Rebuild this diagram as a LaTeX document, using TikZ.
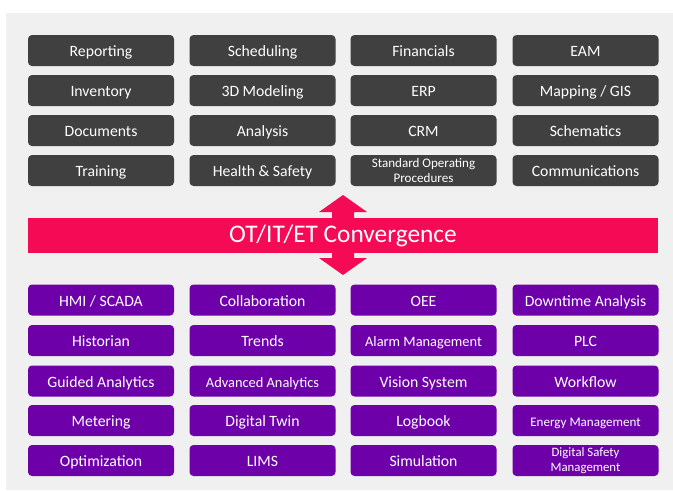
\documentclass[tikz,border=0pt]{standalone}
\usepackage{fontspec}
\setmainfont{Carlito}
\definecolor{fond}{RGB}{240,240,240}
\definecolor{gris}{RGB}{64,64,64}
\definecolor{violet}{RGB}{110,0,170}
\definecolor{rose}{RGB}{245,10,85}
\tikzset{
    tuile/.style={rounded corners=3pt, minimum width=109.5pt, minimum height=23.25pt,
        inner sep=1pt, align=center, text=white, text height=9.6pt, text depth=0pt,
        font=\fontsize{11.8}{12.5}\selectfont},
    tuileIT/.style={tuile, fill=gris},
    tuileOT/.style={tuile, fill=violet},
    petit/.style={font=\fontsize{10.8}{12}\selectfont},
    deuxlignes/.style={text height=, text depth=, font=\fontsize{#1}{11.6}\selectfont}
}

\begin{document}
\begin{tikzpicture}[x=0.75pt, y=-0.75pt]
    \useasboundingbox (0,0) rectangle (673,490);
    % Fond gris
    \fill[fond] (6,13) rectangle (673,490);

    % Applications IT (gris)
    \node[tuileIT] (report) at (101,50.5) {Reporting};
    \node[tuileIT] (sched) at (262.5,50.5) {Scheduling};
    \node[tuileIT] (fin) at (423.5,50.5) {Financials};
    \node[tuileIT] (eam) at (585.5,50.5) {EAM};
    \node[tuileIT] (invent) at (101,90.5) {Inventory};
    \node[tuileIT] (modele) at (262.5,90.5) {3D Modeling};
    \node[tuileIT] (erp) at (423.5,90.5) {ERP};
    \node[tuileIT] (gis) at (585.5,90.5) {Mapping / GIS};
    \node[tuileIT] (docs) at (101,130.5) {Documents};
    \node[tuileIT] (analyse) at (262.5,130.5) {Analysis};
    \node[tuileIT] (crm) at (423.5,130.5) {CRM};
    \node[tuileIT] (schema) at (585.5,130.5) {Schematics};
    \node[tuileIT] (form) at (101,170.5) {Training};
    \node[tuileIT] (secu) at (262.5,170.5) {Health \& Safety};
    \node[tuileIT,deuxlignes=9.8] (sop) at (423.5,170.5) {Standard Operating\\Procedures};
    \node[tuileIT] (comm) at (585.5,170.5) {Communications};

    % Double flèche et bandeau de convergence
    \fill[rose] (343,195) -- (367,212) -- (354,212) -- (354,218) -- (332,218) -- (332,212) -- (319,212) -- cycle;
    \fill[rose] (343,275) -- (367,258) -- (354,258) -- (354,253) -- (332,253) -- (332,258) -- (319,258) -- cycle;
    \node[fill=rose, minimum width=472.5pt, minimum height=26.25pt, inner sep=0pt, text=white,
        font=\fontsize{19}{20}\selectfont] (conv) at (343,235.5) {OT/IT/ET Convergence};

    % Applications OT (violet)
    \node[tuileOT] (hmi) at (101,300) {HMI / SCADA};
    \node[tuileOT] (collab) at (262.5,300) {Collaboration};
    \node[tuileOT] (oee) at (423.5,300) {OEE};
    \node[tuileOT] (arret) at (585.5,300) {Downtime Analysis};
    \node[tuileOT] (histo) at (101,340.5) {Historian};
    \node[tuileOT] (tend) at (262.5,340.5) {Trends};
    \node[tuileOT,petit] (alarme) at (423.5,340.5) {Alarm Management};
    \node[tuileOT] (plc) at (585.5,340.5) {PLC};
    \node[tuileOT] (guide) at (101,381) {Guided Analytics};
    \node[tuileOT,petit] (avance) at (262.5,381) {Advanced Analytics};
    \node[tuileOT] (vision) at (423.5,381) {Vision System};
    \node[tuileOT] (flux) at (585.5,381) {Workflow};
    \node[tuileOT] (compt) at (101,420.5) {Metering};
    \node[tuileOT] (jumeau) at (262.5,420.5) {Digital Twin};
    \node[tuileOT] (journal) at (423.5,420.5) {Logbook};
    \node[tuileOT,font=\fontsize{9.8}{11}\selectfont] (energie) at (585.5,420.5) {Energy Management};
    \node[tuileOT] (optim) at (101,460.5) {Optimization};
    \node[tuileOT] (lims) at (262.5,460.5) {LIMS};
    \node[tuileOT] (simu) at (423.5,460.5) {Simulation};
    \node[tuileOT,deuxlignes=9.6] (securite) at (585.5,460.5) {Digital Safety\\Management};
\end{tikzpicture}
\end{document}
